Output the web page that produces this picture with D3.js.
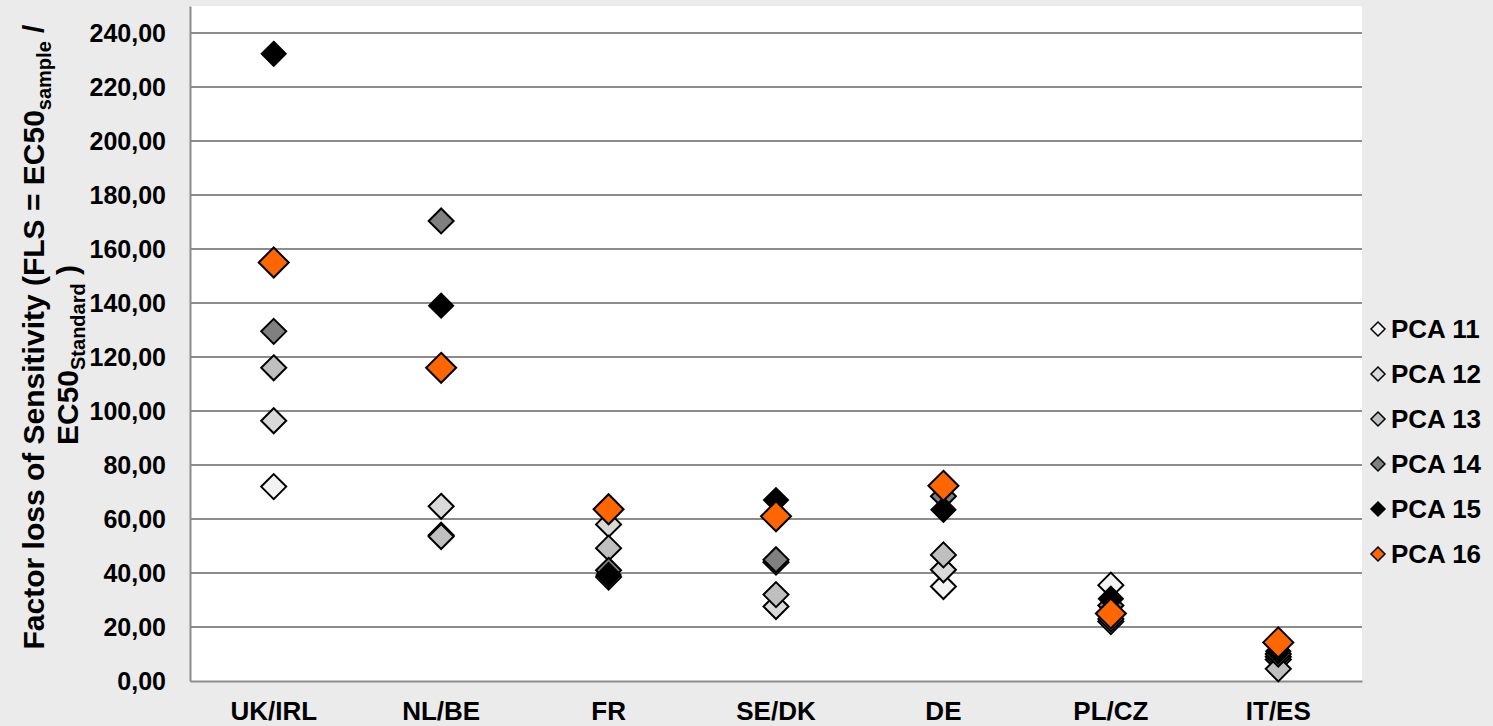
<!DOCTYPE html>
<html>
<head>
<meta charset="utf-8">
<script src="https://cdn.jsdelivr.net/npm/d3@7"></script>
<style>
  body { margin: 0; background: #ebebeb; }
  text { font-family: "Liberation Sans", Arial, sans-serif; font-weight: bold; fill: #000; }
</style>
</head>
<body>
<div id="chart"></div>
<script>
var categories = ["UK/IRL", "NL/BE", "FR", "SE/DK", "DE", "PL/CZ", "IT/ES"];
var seriesNames = ["PCA 11", "PCA 12", "PCA 13", "PCA 14", "PCA 15", "PCA 16"];
var pca11 = [72, 54, 38.5, 44, 35, 35.5, 8];
var pca12 = [96.4, 64.7, 58, 27.6, 41.2, 22, 9];
var pca13 = [116, 53.5, 49.2, 32, 46.7, 23, 4.5];
var pca14 = [129.5, 170.4, 41, 44.9, 68.4, 28, 10];
var pca15 = [232.3, 139, 39.3, 67, 63.4, 30.5, 11];
var pca16 = [155, 116, 63.6, 61, 72.3, 25, 14.3];
var yTicks = [0, 20, 40, 60, 80, 100, 120, 140, 160, 180, 200, 220, 240];

var fills = ["#f2f2f2", "#d9d9d9", "#bfbfbf", "#808080", "#000000", "#ff6600"];
var sizes = [12.5, 12.5, 12.5, 12.5, 12, 15];
var allSeries = [pca11, pca12, pca13, pca14, pca15, pca16];

var W = 1493, H = 726;
var margin = {top: 6, right: 131, bottom: 45, left: 190};
var width = W - margin.left - margin.right,
    height = H - margin.top - margin.bottom;

var svg = d3.select("#chart").append("svg")
  .attr("width", W).attr("height", H);

svg.append("rect").attr("width", W).attr("height", H).attr("fill", "#ebebeb");

var g = svg.append("g")
  .attr("transform", "translate(" + margin.left + "," + margin.top + ")");

g.append("rect").attr("width", width).attr("height", height).attr("fill", "#fff");

var x = d3.scaleBand().domain(categories).range([0, width]);
var y = d3.scaleLinear().domain([0, 250]).range([height, 0]);

var locale = d3.formatLocale({decimal: ",", thousands: ".", grouping: [3], currency: ["", ""]});
var fmt = locale.format(".2f");

// gridlines
g.selectAll(".grid").data(yTicks.slice(1)).enter().append("line")
  .attr("x1", 0).attr("x2", width)
  .attr("y1", function(d) { return y(d); }).attr("y2", function(d) { return y(d); })
  .attr("stroke", "#8c8c8c").attr("stroke-width", 2);

// y axis
var yAxis = g.append("g").call(d3.axisLeft(y).tickValues(yTicks).tickFormat(fmt).tickSize(0).tickPadding(24));
yAxis.select(".domain").attr("stroke", "#8c8c8c").attr("stroke-width", 2);
yAxis.selectAll("text").style("font-size", "25px").style("font-family", "Liberation Sans, Arial").style("font-weight", "bold");

// x axis
var xAxis = g.append("g").attr("transform", "translate(0," + height + ")")
  .call(d3.axisBottom(x).tickSize(0).tickPadding(21));
xAxis.select(".domain").attr("stroke", "#8c8c8c").attr("stroke-width", 2);
xAxis.selectAll("text").style("font-size", "26px").style("font-family", "Liberation Sans, Arial").style("font-weight", "bold");

function diamond(s) {
  return "M0," + (-s) + "L" + s + ",0L0," + s + "L" + (-s) + ",0Z";
}

// markers, drawn series by series so PCA 16 ends on top
allSeries.forEach(function(vals, si) {
  g.append("g").selectAll("path").data(vals).enter().append("path")
    .attr("d", diamond(sizes[si]))
    .attr("transform", function(d, i) {
      return "translate(" + (x(categories[i]) + x.bandwidth() / 2) + "," + y(d) + ")";
    })
    .attr("fill", fills[si])
    .attr("stroke", "#000")
    .attr("stroke-width", 2);
});

// legend
var legend = svg.append("g").attr("transform", "translate(1378,329)");
seriesNames.forEach(function(name, i) {
  var row = legend.append("g").attr("transform", "translate(0," + (i * 45) + ")");
  row.append("path").attr("d", diamond(7)).attr("fill", fills[i]).attr("stroke", "#000").attr("stroke-width", 1.5);
  row.append("text").attr("x", 13).attr("dy", "0.35em").style("font-size", "26px").text(name);
});

// y title
var title = svg.append("text")
  .attr("transform", "translate(44,337) rotate(-90)")
  .attr("text-anchor", "middle")
  .style("font-size", "30px");
title.append("tspan").text("Factor loss of Sensitivity (FLS = EC50");
title.append("tspan").attr("dy", 7).style("font-size", "20px").text("sample");
title.append("tspan").attr("dy", -7).text(" /");

var title2 = svg.append("text")
  .attr("transform", "translate(78,355) rotate(-90)")
  .attr("text-anchor", "middle")
  .style("font-size", "30px");
title2.append("tspan").text("EC50");
title2.append("tspan").attr("dy", 7).style("font-size", "20px").text("Standard");
title2.append("tspan").attr("dy", -7).text(" )");
</script>
</body>
</html>
